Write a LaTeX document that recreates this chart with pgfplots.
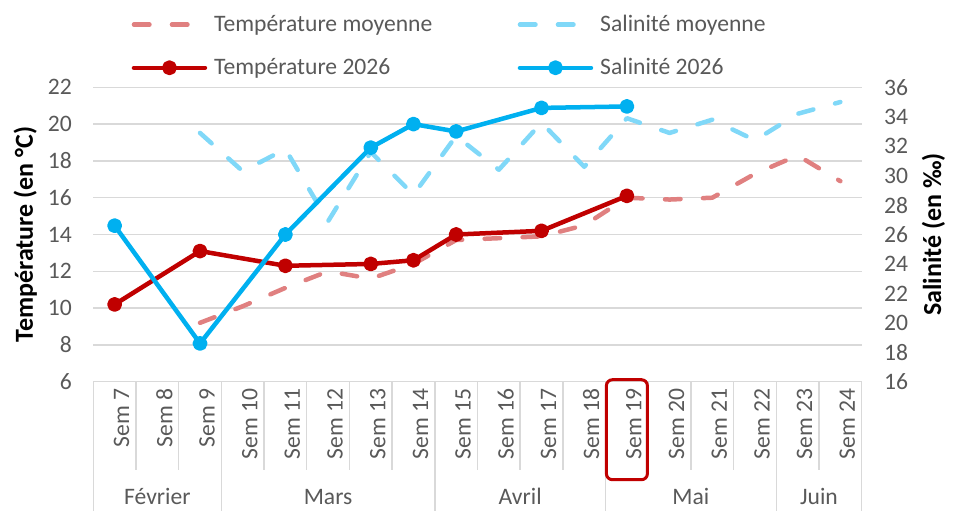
\documentclass[border=0pt]{standalone}
\usepackage{fontspec}
\setmainfont{Carlito}
\usepackage{pgfplots}
\usepackage{pgfplotstable}
\pgfplotsset{compat=1.18}
\definecolor{tred}{HTML}{C00000}
\definecolor{sblue}{HTML}{00B0F0}
\definecolor{tredl}{HTML}{E08080}
\definecolor{sbluel}{HTML}{80D8F8}
\definecolor{txt}{HTML}{595959}
\definecolor{grd}{HTML}{D9D9D9}
\newcommand\f{\fontsize{11.8pt}{14pt}\selectfont}
\newcommand\fl{\fontsize{13pt}{15pt}\selectfont\bfseries}

\pgfplotstableread{
x t
0 10.2
2 13.1
4 12.3
6 12.4
7 12.6
8 14.0
10 14.2
12 16.1
}\tempA
\pgfplotstableread{
x t
2 9.2
3 10.1
4 11.1
5 12.0
6 11.6
7 12.4
8 13.7
9 13.8
10 13.9
11 14.5
12 16.0
13 15.9
14 16.0
15 17.3
16 18.3
17 16.9
}\tempM
\pgfplotstableread{
x s
0 26.6
2 18.6
4 26.0
6 31.9
7 33.5
8 33.0
10 34.6
12 34.7
}\salA
\pgfplotstableread{
x s
2 32.9
3 30.3
4 31.8
5 26.9
6 31.6
7 28.7
8 32.7
9 30.4
10 33.6
11 30.6
12 33.9
13 32.9
14 33.8
15 32.4
16 34.2
17 35.0
}\salM

\tikzset{
  dashst/.style={line width=2.25pt, dash pattern=on 7.75pt off 11.25pt, line cap=round, line join=round},
  solidst/.style={line width=2.25pt, line cap=round, line join=round, mark=*, mark size=2.6pt, mark options={solid}},
}

\begin{document}
\begin{tikzpicture}
\begin{axis}[
  scale only axis, width=384.2pt, height=147.2pt,
  xmin=-0.5, xmax=17.5, ymin=6, ymax=22,
  xtick={0,...,17},
  xticklabels={Sem 7,Sem 8,Sem 9,Sem 10,Sem 11,Sem 12,Sem 13,Sem 14,Sem 15,Sem 16,Sem 17,Sem 18,Sem 19,Sem 20,Sem 21,Sem 22,Sem 23,Sem 24},
  ytick={6,8,...,22},
  axis x line*=bottom, axis y line*=left,
  y axis line style={draw=none},
  x axis line style={grd, line width=0.75pt},
  major tick length=0pt,
  ymajorgrids, grid style={grd, line width=0.75pt},
  tick label style={font=\f, text=txt},
  /pgf/number format/assume math mode=true,
  xticklabel style={rotate=90, anchor=east, yshift=-3.5pt},
  yticklabel style={xshift=-7.2pt},
  ylabel={Température (en °C)},
  every axis y label/.style={at={(axis description cs:-0.0885,0.5)}, rotate=90, anchor=center, font=\fl, text=black},
  clip=false,
  legend columns=2,
  legend cell align=left,
  legend image code/.code={\draw[mark repeat=2,mark phase=2,#1] plot coordinates {(0pt,0pt) (17.75pt,0pt) (35.5pt,0pt)};},
  legend style={draw=none, fill=none, font=\f, text=txt, inner sep=0pt, outer sep=0pt, row sep=11.9pt,
    nodes={inner sep=0pt},
    at={(axis description cs:0.05,1.246)}, anchor=north west,
    /tikz/every odd column/.append style={column sep=3.5pt},
    /tikz/every even column/.append style={column sep=42.7pt}},
]
\coordinate (BL) at (rel axis cs:0,0);
\coordinate (TR) at (rel axis cs:1,1);
% separators
\pgfplotsinvokeforeach{0.5,1.5,3.5,4.5,5.5,6.5,8.5,9.5,10.5,12.5,13.5,14.5,16.5}{
  \draw[grd, line width=0.75pt] (axis cs:#1,6) -- ([yshift=-44.15pt]axis cs:#1,6);
}
\pgfplotsinvokeforeach{-0.5,2.5,7.5,11.5,15.5,17.5}{
  \draw[grd, line width=0.75pt] (axis cs:#1,6) -- ([yshift=-64.65pt]axis cs:#1,6);
}
\node[font=\f, text=txt] at ([yshift=-57.5pt]axis cs:1,6) {Février};
\node[font=\f, text=txt] at ([yshift=-57.5pt]axis cs:5,6) {Mars};
\node[font=\f, text=txt] at ([yshift=-57.5pt]axis cs:9.5,6) {Avril};
\node[font=\f, text=txt] at ([yshift=-57.5pt]axis cs:13.5,6) {Mai};
\node[font=\f, text=txt] at ([yshift=-57.5pt]axis cs:16.5,6) {Juin};
\draw[tred, line width=1.5pt, rounded corners=3pt] ([xshift=-10.25pt,yshift=1pt]axis cs:12,6) rectangle ([xshift=10.25pt,yshift=-49pt]axis cs:12,6);

\addplot[tredl, dashst, forget plot] table[x=x,y=t] {\tempM};
\addplot[tred, solidst, forget plot] table[x=x,y=t] {\tempA};

\addlegendimage{tredl, dashst}
\addlegendentry{Température moyenne}
\addlegendimage{sbluel, dashst}
\addlegendentry{Salinité moyenne}
\addlegendimage{tred, solidst}
\addlegendentry{Température 2026}
\addlegendimage{sblue, solidst}
\addlegendentry{Salinité 2026}
\end{axis}

\begin{axis}[
  scale only axis, width=384.2pt, height=147.2pt,
  xmin=-0.5, xmax=17.5, ymin=16, ymax=36,
  axis x line=none, xtick=\empty,
  axis y line*=right, y axis line style={draw=none},
  ytick={16,18,...,36},
  major tick length=0pt,
  tick label style={font=\f, text=txt},
  /pgf/number format/assume math mode=true,
  yticklabel style={xshift=7.7pt},
  ylabel={Salinité (en ‰)},
  every axis y label/.style={at={(axis description cs:1.0932,0.5)}, rotate=90, anchor=center, font=\fl, text=black},
  clip=false,
]
\addplot[sbluel, dashst] table[x=x,y=s] {\salM};
\addplot[sblue, solidst] table[x=x,y=s] {\salA};
\end{axis}
\pgfresetboundingbox
\path[use as bounding box] ([xshift=-46.65pt,yshift=-64.65pt]BL) rectangle ([xshift=45.65pt,yshift=43.65pt]TR);
\end{tikzpicture}
\end{document}
